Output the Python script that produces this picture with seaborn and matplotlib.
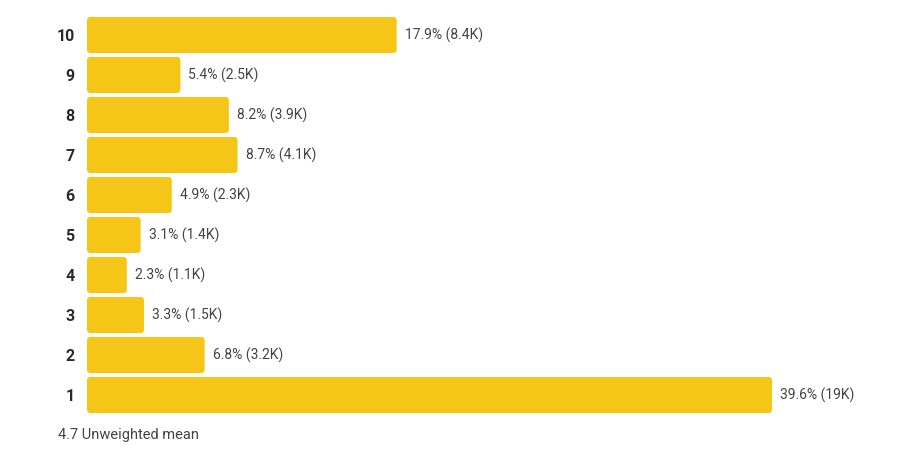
import matplotlib
matplotlib.use("Agg")
import matplotlib.pyplot as plt
from matplotlib.patches import FancyBboxPatch
import pandas as pd
import seaborn as sns

ratings = ["10", "9", "8", "7", "6", "5", "4", "3", "2", "1"]
shares = [17.9, 5.4, 8.2, 8.7, 4.9, 3.1, 2.3, 3.3, 6.8, 39.6]
counts = ["8.4K", "2.5K", "3.9K", "4.1K", "2.3K", "1.4K", "1.1K", "1.5K", "3.2K", "19K"]
mean_text = "4.7 Unweighted mean"

df = pd.DataFrame({"rating": ratings, "share": shares, "count": counts})

sns.set_style("white")
plt.rcParams["font.family"] = ["Roboto", "DejaVu Sans"]

fig = plt.figure(figsize=(9.08, 4.68), dpi=100)
ax = fig.add_axes([87 / 908, 53 / 468, 793 / 908, 400 / 468])

sns.barplot(data=df, y="rating", x="share", order=ratings, color="#F5C518",
            saturation=1, width=0.9, ax=ax)
ax.set_xlim(0, 793 / 17.3)
ax.set_ylim(9.5, -0.5)

# swap plain bars for slightly rounded ones
for p in list(ax.patches):
    x, y, w, h = p.get_x(), p.get_y(), p.get_width(), p.get_height()
    p.remove()
    ax.add_patch(FancyBboxPatch((x, y), w, h,
                                boxstyle="round,pad=0,rounding_size=0.2",
                                mutation_aspect=0.44, facecolor="#F5C518",
                                edgecolor="none"))

for i, (s, c) in enumerate(zip(shares, counts)):
    ax.text(s + 8 / 17.3, i, f"{s}% ({c})", va="center", ha="left",
            fontsize=10, color="#444444")

ax.set_xlabel("")
ax.set_ylabel("")
ax.set_xticks([])
ax.tick_params(axis="y", length=0, pad=9)
for lab in ax.get_yticklabels():
    lab.set_fontsize(11.5)
    lab.set_fontweight("bold")
    lab.set_color("#2a2a2a")
sns.despine(ax=ax, left=True, bottom=True)

fig.text(58 / 908, 1 - 435 / 468, mean_text, ha="left", va="center",
         fontsize=10.5, color="#444444")

fig.savefig("out.png", dpi=100)
